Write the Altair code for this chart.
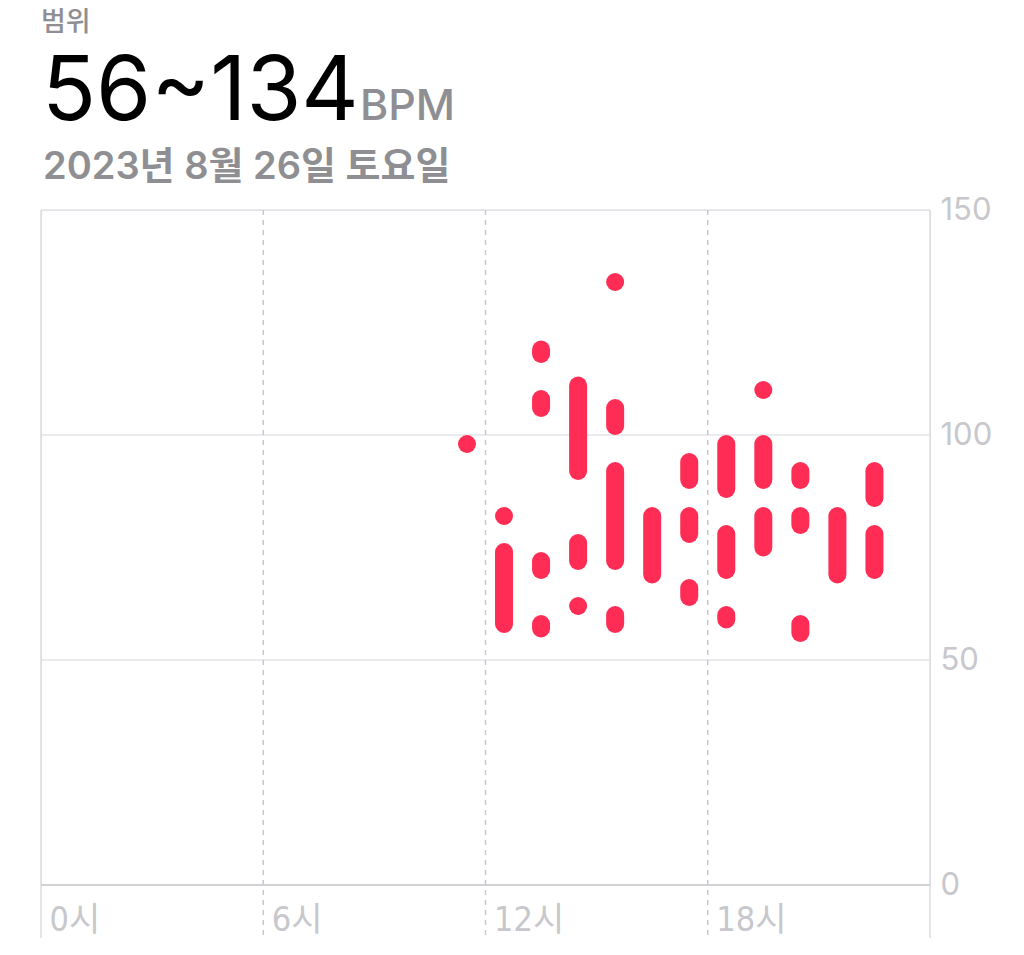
import altair as alt
import pandas as pd

# ---- data ----
hours = [11, 12, 12, 13, 13, 13, 13, 14, 14, 14, 15, 15, 15, 15, 16,
         17, 17, 17, 18, 18, 18, 19, 19, 19, 20, 20, 20, 21, 22, 22]
lows = [98, 82, 58, 118, 106, 70, 57, 92, 72, 62, 134, 102, 72, 58, 69,
        90, 78, 64, 88, 70, 59, 110, 90, 75, 90, 80, 56, 69, 86, 70]
highs = [98, 82, 74, 119, 108, 72, 58, 111, 76, 62, 134, 106, 92, 60, 82,
         94, 82, 66, 98, 78, 60, 110, 98, 82, 92, 82, 58, 82, 92, 78]

x_ticks = [0, 6, 12, 18]
x_dashed = [6, 12, 18]
x_borders = [0, 24]
y_ticks = [0, 50, 100, 150]
y_grid = [50, 100, 150]

label_top = "범위"
unit_text = "BPM"
date_text = "2023년 8월 26일 토요일"
range_text = f"{min(lows)}~{max(highs)}"

PINK = "#FF2D55"
FONT = "Inter, Noto Sans CJK KR, sans-serif"
XFONT = "Liberation Sans Narrow, DejaVu Sans Condensed, Noto Sans CJK KR, sans-serif"

W, H = 889, 675

df = pd.DataFrame({"hour": hours, "lo": lows, "hi": highs})

xs = alt.Scale(domain=[0, 24], nice=False, zero=False)
ys = alt.Scale(domain=[0, 150], nice=False)

x_axis = alt.Axis(
    values=x_ticks, labelExpr="datum.value + '시'", domain=False, ticks=False,
    grid=False, labelAlign="left", labelOffset=8, labelBaseline="alphabetic",
    labelPadding=45, labelFontSize=34, labelColor="#c7c7cc", labelFont=XFONT,
    title=None, labelFlush=False, labelOverlap=False)
y_axis = alt.Axis(
    orient="right", values=y_ticks, domain=False, ticks=False, grid=False,
    labelFontSize=31, labelColor="#c7c7cc", labelFont=FONT, labelPadding=10,
    labelAlign="left", labelBaseline="middle", title=None, labelFlush=False,
    labelOverlap=False)

# grid / frame
hgrid = alt.Chart(pd.DataFrame({"v": y_grid})).mark_rule(
    color="#e5e5ea", strokeWidth=1.5
).encode(y=alt.Y("v:Q", scale=ys, axis=y_axis))

baseline = alt.Chart(pd.DataFrame({"v": [0]})).mark_rule(
    color="#d1d1d6", strokeWidth=2
).encode(y=alt.Y("v:Q", scale=ys, axis=y_axis))

borders = alt.Chart(pd.DataFrame({"h": x_borders})).mark_rule(
    color="#dcdce0", strokeWidth=1.5
).encode(x=alt.X("h:Q", scale=xs, axis=x_axis), y=alt.value(0), y2=alt.value(728))

dashed = alt.Chart(pd.DataFrame({"h": x_dashed})).mark_rule(
    color="#c7c7cc", strokeWidth=1.5, strokeDash=[5, 5]
).encode(x=alt.X("h:Q", scale=xs, axis=x_axis), y=alt.value(0), y2=alt.value(728))

# data marks
base = alt.Chart(df).transform_calculate(xc="datum.hour + 0.5")
bars = base.mark_rule(color=PINK, strokeWidth=18, strokeCap="round").encode(
    x=alt.X("xc:Q", scale=xs, axis=x_axis),
    y=alt.Y("lo:Q", scale=ys, axis=y_axis),
    y2="hi:Q",
)
dots = base.mark_circle(color=PINK, size=254, opacity=1).encode(
    x=alt.X("xc:Q", scale=xs, axis=x_axis),
    y=alt.Y("lo:Q", scale=ys, axis=y_axis),
)
dots2 = base.mark_circle(color=PINK, size=254, opacity=1).encode(
    x=alt.X("xc:Q", scale=xs, axis=x_axis),
    y=alt.Y("hi:Q", scale=ys, axis=y_axis),
)

# header texts
def text_layer(txt, x, y, size, color, weight="normal"):
    return alt.Chart(pd.DataFrame({"t": [txt]})).mark_text(
        align="left", baseline="alphabetic", fontSize=size, color=color,
        font=FONT, fontWeight=weight
    ).encode(text="t:N", x=alt.value(x), y=alt.value(y))

t1 = text_layer(label_top, 0, -179, 27, "#8e8e93", 500)
t2 = text_layer(range_text, 1, -90, 89, "#000000", 400)
t3 = text_layer(unit_text, 319, -90, 43, "#8e8e93", 500)
t4 = text_layer(date_text, 2, -31, 38, "#8e8e93", 600)

chart = alt.layer(
    hgrid, borders, dashed, baseline, bars, dots, dots2, t1, t2, t3, t4
).resolve_scale(x="shared", y="shared").properties(
    width=W, height=H,
    autosize=alt.AutoSizeParams(type="none"),
    padding={"left": 33, "top": 202, "right": 86, "bottom": 60},
).configure_view(stroke=None).configure(background="white")

chart.save("out.html", embed_options={"renderer": "svg", "actions": False})
